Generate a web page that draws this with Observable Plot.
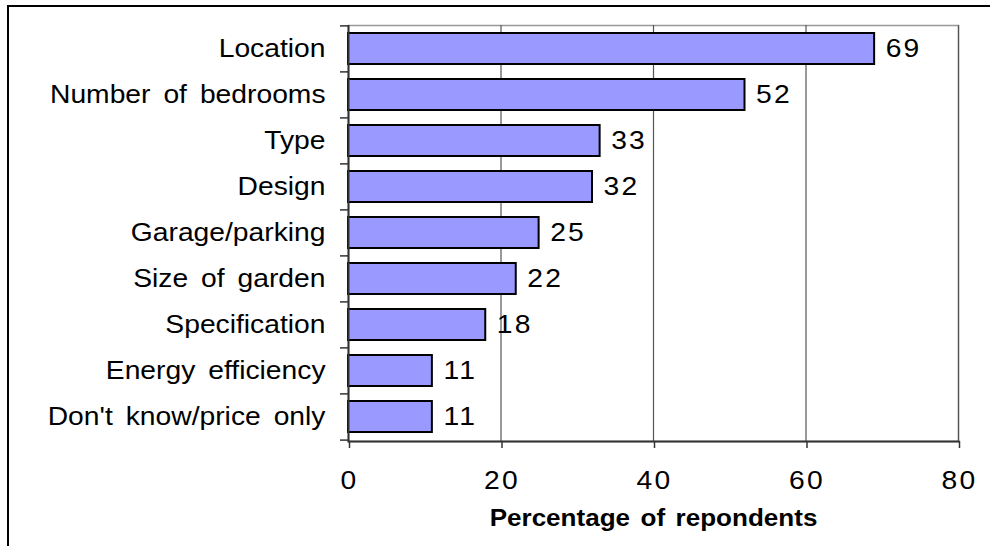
<!DOCTYPE html>
<html>
<head>
<meta charset="utf-8">
<script src="https://cdn.jsdelivr.net/npm/d3@7"></script>
<script src="https://cdn.jsdelivr.net/npm/@observablehq/plot@0.6"></script>
<style>
  html, body { margin: 0; padding: 0; background: white; overflow: hidden; }
  #wrap { position: relative; width: 990px; height: 546px; }
  #border { position: absolute; left: 7px; top: 5px; right: -10px; bottom: -10px;
            border-top: 2px solid #000; border-left: 2px solid #000; pointer-events: none; }
  .ylab text { word-spacing: 4.5px; }
  .xlab text, .vlab text { letter-spacing: 2px; }
  .ttl text { word-spacing: 3px; }
</style>
</head>
<body>
<div id="wrap"><div id="border"></div></div>
<script>
const categories = ["Location", "Number of bedrooms", "Type", "Design", "Garage/parking",
  "Size of garden", "Specification", "Energy efficiency", "Don't know/price only"];
const values = [69, 52, 33, 32, 25, 22, 18, 11, 11];
const xTicks = [0, 20, 40, 60, 80];
const xTitle = "Percentage of repondents";

const data = categories.map((c, i) => ({category: c, value: values[i]}));

const W = 990, H = 546, mt = 25, mb = 105, ml = 348, mr = 32;
const step = (H - mt - mb) / categories.length;

const chart = Plot.plot({
  width: W, height: H,
  marginLeft: ml, marginRight: mr, marginTop: mt, marginBottom: mb,
  style: {fontFamily: "'Liberation Sans', Arial, sans-serif", fontSize: "25px", background: "transparent", color: "#000"},
  x: {domain: [0, 80], label: null},
  y: {domain: categories, paddingInner: 0.32, paddingOuter: 0.16, label: null},
  marks: [
    Plot.frame({stroke: "#999", strokeWidth: 1.5}),
    Plot.ruleX(xTicks.slice(1), {stroke: "#555", strokeWidth: 1.2}),
    Plot.barX(data, {x: "value", y: "category", fill: "#9999FF", stroke: "#000", strokeWidth: 2}),
    Plot.text(data, {x: "value", y: "category", text: d => String(d.value), textAnchor: "start", dx: 11, fill: "#000", className: "vlab"}),
    Plot.ruleX([0], {stroke: "#333", strokeWidth: 2}),
    Plot.frame({anchor: "bottom", stroke: "#333", strokeWidth: 2}),
    Plot.axisX({ticks: xTicks, tickSize: 7, tickPadding: 23, stroke: "#333", strokeWidth: 1.5, label: null, fill: "#000", dx: 1, className: "xlab"}),
    Plot.axisY({tickSize: 0, tickPadding: 23, label: null, fill: "#000", className: "ylab"}),
    Plot.ruleY(categories, {y: d => d, x1: 0, x2: 0, insetLeft: -8, dy: -step / 2, stroke: "#333", strokeWidth: 1.5}),
    Plot.ruleY(categories.slice(-1), {y: d => d, x1: 0, x2: 0, insetLeft: -8, dy: step / 2, stroke: "#333", strokeWidth: 1.5}),
    Plot.text([xTitle], {frameAnchor: "bottom", text: d => d, dy: 84, fontSize: 24, fontWeight: "bold", fill: "#000", className: "ttl"})
  ]
});

document.getElementById("wrap").insertBefore(chart, document.getElementById("border"));

// widen the glyphs horizontally (the reference font is a wide sans)
chart.querySelectorAll("text").forEach(t => {
  const k = t.closest(".ttl") ? 1.085 : 1.13;
  const len = t.getComputedTextLength();
  if (len > 0) {
    t.setAttribute("textLength", (len * k).toFixed(2));
    t.setAttribute("lengthAdjust", "spacingAndGlyphs");
  }
});
</script>
</body>
</html>
